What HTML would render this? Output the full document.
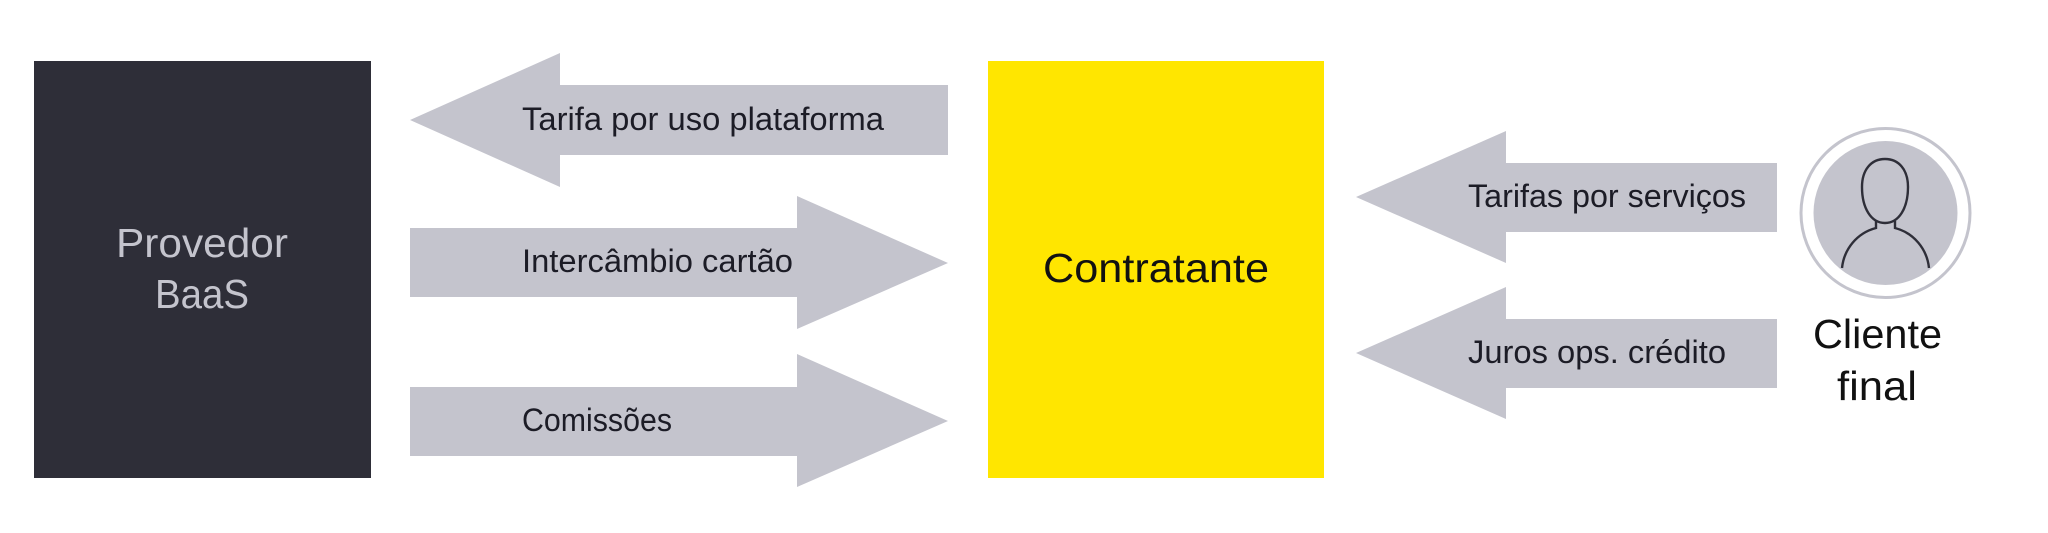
<!DOCTYPE html>
<html><head><meta charset="utf-8"><style>html,body{margin:0;padding:0;background:#fff;width:2048px;height:533px;overflow:hidden}svg{display:block}text{font-family:"Liberation Sans",sans-serif}</style></head>
<body><svg width="2048" height="533" viewBox="0 0 2048 533" xmlns="http://www.w3.org/2000/svg">
<rect width="2048" height="533" fill="#fff"/>
<rect x="34" y="61" width="337" height="417" fill="#2e2e38"/>
<rect x="988" y="61" width="336" height="417" fill="#ffe600"/>
<g fill="#c4c4cd">
<polygon points="410,120 560,53 560,85 948,85 948,155 560,155 560,187"/>
<polygon points="948,263 797,196 797,228 410,228 410,297 797,297 797,329"/>
<polygon points="948,421 797,354 797,387 410,387 410,456 797,456 797,487"/>
<polygon points="1356,197 1506,131 1506,163 1777,163 1777,232 1506,232 1506,263"/>
<polygon points="1356,353 1506,287 1506,319 1777,319 1777,388 1506,388 1506,419"/>
<circle cx="1885.5" cy="213" r="72"/>
</g>
<circle cx="1885.5" cy="213" r="84.5" fill="none" stroke="#c4c4cd" stroke-width="3"/>
<g fill="none" stroke="#2e2e38" stroke-width="2.4">
<path d="M1885 159C1899 159 1908 170 1908 187C1908 208 1899 223 1885 223C1871 223 1862 208 1862 187C1862 170 1871 159 1885 159Z"/>
<path d="M1842 268C1844 249 1857 233 1876 228V221M1929 268C1927 249 1914 233 1895 228V221"/>
</g>
<g font-size="32" fill="#1c1c26">
<text x="522" y="130" textLength="362" lengthAdjust="spacingAndGlyphs">Tarifa por uso plataforma</text>
<text x="522" y="272" textLength="271" lengthAdjust="spacingAndGlyphs">Intercâmbio cartão</text>
<text x="522" y="431" textLength="150" lengthAdjust="spacingAndGlyphs">Comissões</text>
<text x="1468" y="207" textLength="278" lengthAdjust="spacingAndGlyphs">Tarifas por serviços</text>
<text x="1468" y="363" textLength="258" lengthAdjust="spacingAndGlyphs">Juros ops. crédito</text>
</g>
<g font-size="41" fill="#c4c4cd">
<text x="116" y="257" textLength="172" lengthAdjust="spacingAndGlyphs">Provedor</text>
<text x="155" y="308" textLength="94" lengthAdjust="spacingAndGlyphs">BaaS</text>
</g>
<g font-size="41" fill="#111">
<text x="1043" y="282" textLength="226" lengthAdjust="spacingAndGlyphs">Contratante</text>
<text x="1813" y="348" textLength="129" lengthAdjust="spacingAndGlyphs">Cliente</text>
<text x="1837" y="400" textLength="80" lengthAdjust="spacingAndGlyphs">final</text>
</g>
</svg></body></html>
